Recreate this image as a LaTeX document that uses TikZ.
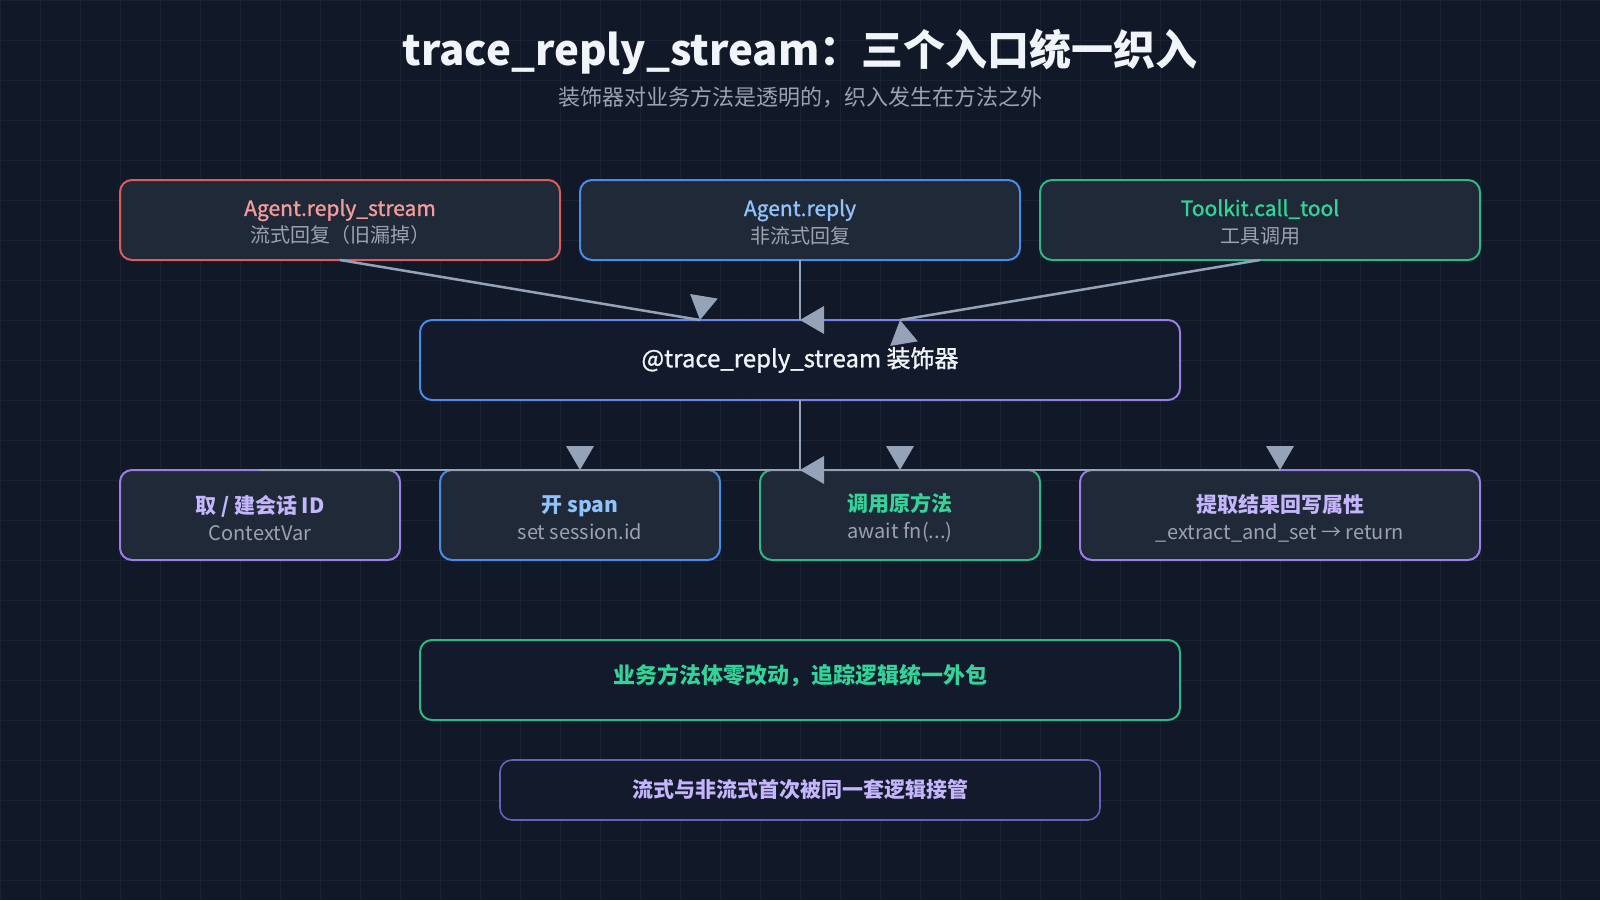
\documentclass[tikz,border=0pt]{standalone}
\usepackage{fontspec}
\setmainfont{Noto Sans CJK SC}
\newfontfamily\medium[FakeBold=1.2]{Noto Sans CJK SC}
\usetikzlibrary{decorations.markings}

\definecolor{bgcol}{HTML}{111827}
\definecolor{gridcol}{HTML}{1A2232}
\definecolor{cardfill}{HTML}{1F2937}
\definecolor{deepfill}{HTML}{121A2B}
\definecolor{linegray}{HTML}{94A3B8}
\definecolor{subgray}{HTML}{9CA3AF}
\definecolor{titlewhite}{HTML}{F1F5F9}
\definecolor{redline}{HTML}{DC5B61}
\definecolor{redtxt}{HTML}{F59C9C}
\definecolor{blueline}{HTML}{4A8BEA}
\definecolor{bluetxt}{HTML}{90C2FB}
\definecolor{greenline}{HTML}{2FB886}
\definecolor{greentxt}{HTML}{34D399}
\definecolor{purpleline}{HTML}{9B7EE8}
\definecolor{purpletxt}{HTML}{C4B5FD}
\definecolor{dimpurple}{HTML}{6E5EBB}

\newcommand{\cardsub}[1]{\\[-0.5pt]{\fontsize{10}{14}\selectfont\color{subgray}#1}}

\begin{document}
\begin{tikzpicture}[x=0.5pt, y=-0.5pt,
  box/.style={rectangle, rounded corners=6pt, line width=1pt, fill=cardfill, align=center, inner sep=0pt, outer sep=0pt},
  srcbox/.style={box, minimum width=220pt, minimum height=40pt},
  stepbox/.style={box, minimum width=140pt, minimum height=45pt},
  cardtext/.style={font=\fontsize{10.5}{14}\selectfont, align=center},
  steptext/.style={font=\fontsize{10.5}{14}\selectfont\bfseries, align=center},
  notebox/.style={box, fill=deepfill},
  flow/.style={draw=linegray, line width=1.25pt, postaction={decorate},
    decoration={markings, mark=at position 1 with {\fill[linegray, rotate=-90] (0,0) -- (-12pt,7pt) -- (-12pt,-7pt) -- cycle;}}},
]
\useasboundingbox (0,0) rectangle (1600,900);
\fill[bgcol] (0,0) rectangle (1600,900);
\foreach \gx in {0,40,...,1600} \draw[gridcol, line width=0.5pt] (\gx,0) -- (\gx,900);
\foreach \gy in {0,40,...,880} \draw[gridcol, line width=0.5pt] (0,\gy) -- (1600,\gy);

% heading
\node[font=\fontsize{21}{24}\selectfont\bfseries, text=titlewhite] (title) at (800,52) {trace\_reply\_stream：三个入口统一织入};
\node[font=\fontsize{11}{12}\selectfont, text=subgray] (subtitle) at (800,97) {装饰器对业务方法是透明的，织入发生在方法之外};

% entry points
\node[srcbox, draw=redline] (stream) at (340,220) {};
\node[srcbox, draw=blueline] (reply) at (800,220) {};
\node[srcbox, draw=greenline] (calltool) at (1260,220) {};
\node[cardtext] at ([yshift=-1pt]stream.center) {{\medium\color{redtxt}Agent.reply\_stream}\cardsub{流式回复（旧漏掉）}};
\node[cardtext] at ([yshift=-1pt]reply.center) {{\medium\color{bluetxt}Agent.reply}\cardsub{非流式回复}};
\node[cardtext] at ([yshift=-1pt]calltool.center) {{\medium\color{greentxt}Toolkit.call\_tool}\cardsub{工具调用}};

% decorator
\node[box, fill=deepfill, minimum width=380pt, minimum height=40pt, font=\fontsize{12}{14}\selectfont\medium, text=titlewhite] (deco) at (800,360) {@trace\_reply\_stream 装饰器};
\shade[left color=blueline, right color=purpleline, even odd rule, rounded corners=6.5pt]
  ([shift={(-0.5pt,0.5pt)}]deco.north west) rectangle ([shift={(0.5pt,-0.5pt)}]deco.south east)
  [rounded corners=5.5pt] ([shift={(0.5pt,-0.5pt)}]deco.north west) rectangle ([shift={(-0.5pt,0.5pt)}]deco.south east);

% steps
\node[stepbox, draw=purpleline] (ctxid) at (260,515) {};
\node[stepbox, draw=blueline] (span) at (580,515) {};
\node[stepbox, draw=greenline] (callfn) at (900,515) {};
\node[stepbox, draw=purpleline, minimum width=200pt] (extract) at (1280,515) {};
\node[steptext] at ([yshift=-1.5pt]ctxid.center) {{\color{purpletxt}取 / 建会话 ID}\cardsub{\mdseries ContextVar}};
\node[steptext] at ([yshift=-1.5pt]span.center) {{\color{bluetxt}开 span}\cardsub{\mdseries set session.id}};
\node[steptext] at ([yshift=-1.5pt]callfn.center) {{\color{greentxt}调用原方法}\cardsub{\mdseries await fn(...)}};
\node[steptext] at ([yshift=-1.5pt]extract.center) {{\color{purpletxt}提取结果回写属性}\cardsub{\mdseries \_extract\_and\_set → return}};

% notes
\node[notebox, draw=greenline, minimum width=380pt, minimum height=40pt] (note1) at (800,680) {};
\node[font=\fontsize{11}{14}\selectfont\bfseries, text=greentxt] at ([yshift=2pt]note1.center) {业务方法体零改动，追踪逻辑统一外包};
\node[notebox, draw=dimpurple, line width=0.8pt, minimum width=300pt, minimum height=30pt, font=\fontsize{10.5}{14}\selectfont\bfseries, text=purpletxt] (note2) at (800,790) {流式与非流式首次被同一套逻辑接管};

% connectors
\draw[flow] (stream.south) -- ([xshift=-50pt]deco.north);
\draw[flow] (reply.south) -- (deco.north);
\draw[flow] (calltool.south) -- ([xshift=50pt]deco.north);
\draw[flow] (deco.south) -- (deco.south |- span.north);
\draw[flow] (ctxid.north) -- (span.north);
\draw[flow] (span.north) -- (callfn.north);
\draw[flow] (callfn.north) -- (extract.north);
\end{tikzpicture}
\end{document}
